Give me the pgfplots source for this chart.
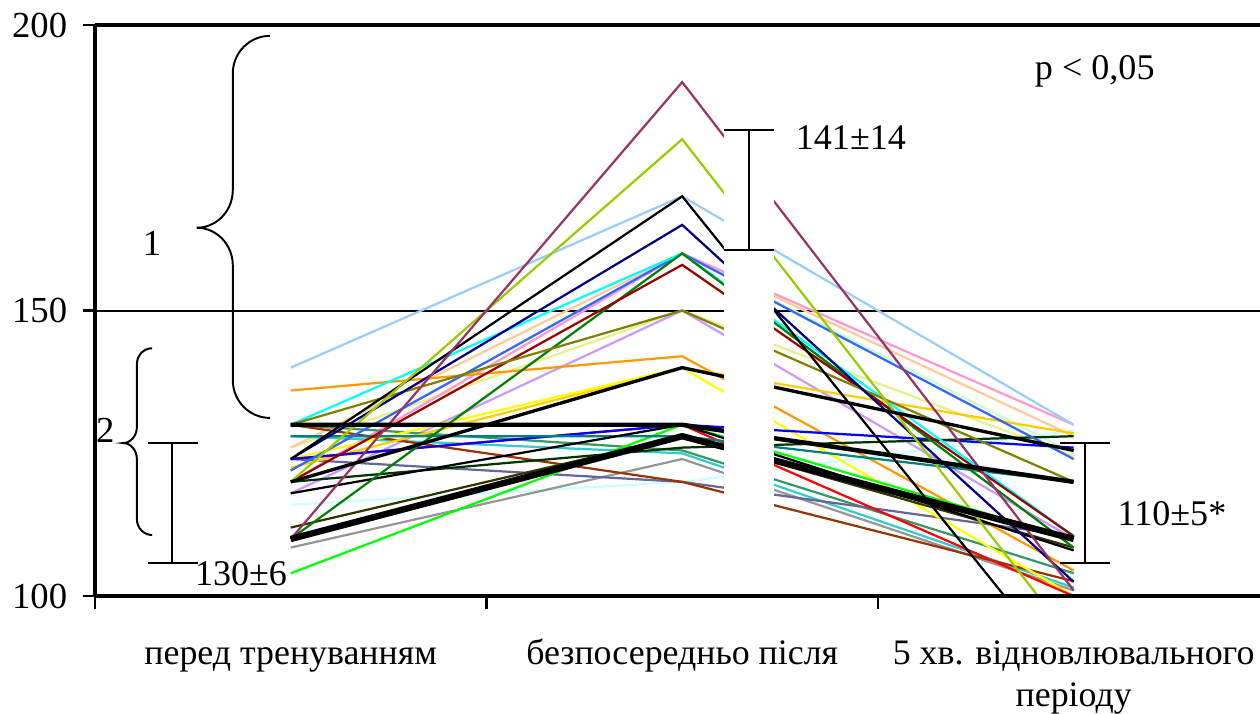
\documentclass[border=0pt]{standalone}
\usepackage{fontspec}
\setmainfont{Liberation Serif}
\usepackage{pgfplots}
\pgfplotsset{compat=1.18}

\definecolor{skyb}{HTML}{99CCFF}
\definecolor{orng}{HTML}{FF9900}
\definecolor{maroon}{HTML}{993366}
\definecolor{ygreen}{HTML}{99CC00}
\definecolor{navy}{HTML}{000080}
\definecolor{aqua}{HTML}{00FFFF}
\definecolor{royal}{HTML}{3366FF}
\definecolor{pinkc}{HTML}{FF99CC}
\definecolor{peach}{HTML}{FFCC99}
\definecolor{grn}{HTML}{008000}
\definecolor{dred}{HTML}{990000}
\definecolor{olivec}{HTML}{808000}
\definecolor{lav}{HTML}{CC99FF}
\definecolor{lyel}{HTML}{E6F08C}
\definecolor{pgreen}{HTML}{CCFFCC}
\definecolor{yel}{HTML}{FFFF00}
\definecolor{gold}{HTML}{FFCC00}
\definecolor{blu}{HTML}{0000FF}
\definecolor{dgreen}{HTML}{003300}
\definecolor{tealc}{HTML}{008080}
\definecolor{seag}{HTML}{339966}
\definecolor{lseag}{HTML}{33CCCC}
\definecolor{gry}{HTML}{969696}
\definecolor{brwn}{HTML}{993300}
\definecolor{slate}{HTML}{666699}
\definecolor{lcyan}{HTML}{CCFFFF}
\definecolor{rd}{HTML}{FF0000}
\definecolor{lime}{HTML}{00FF00}
\definecolor{dolive}{HTML}{333300}

\begin{document}
\begin{tikzpicture}[font=\fontsize{12.5}{15}\selectfont]
\begin{axis}[
  scale only axis,
  width=419.4pt, height=205.6pt,
  xmin=0.5, xmax=3.476, ymin=100, ymax=200,
  axis x line=box, axis y line=left,
  axis line style={-, line width=1.3pt},
  xtick={0.5,1.5,2.5}, xticklabels={},
  ytick={100,150,200},
  tick align=outside, xtick pos=left, ytick pos=left,
  major tick length=4.5pt,
  tick style={black, line width=0.8pt},
  /pgf/number format/assume math mode=true,
  tick label style={font=\fontsize{13.2}{15}\selectfont},
  yticklabel style={xshift=-2pt},
  extra x ticks={1,2,3},
  extra x tick labels={перед тренуванням, безпосередньо після,
    {\begin{tabular}[t]{@{}c@{}}5 хв. відновлювального\\періоду\end{tabular}}},
  extra x tick style={major tick length=0pt, tick style={draw=none},
    xticklabel style={anchor=base, yshift=-24.5pt,
      font=\fontsize{12.9}{15.1}\selectfont}},
  axis on top,
  clip mode=individual,
  subj/.style={line width=0.8pt, mark=none},
  thk/.style={line width=1.6pt, mark=none},
]
% reference level at 150
\draw[black, line width=0.7pt] (axis cs:0.5,150) -- (axis cs:3.476,150);

% individual heart-rate curves: before, right after, 5 min of recovery
\addplot[subj, pgreen]  coordinates {(1,122) (2,160) (3,125)};
\addplot[subj, lcyan]   coordinates {(1,116) (2,120) (3,129)};
\addplot[subj, lyel]    coordinates {(1,126) (2,150) (3,124.5)};
\addplot[subj, peach]   coordinates {(1,126) (2,160) (3,128)};
\addplot[subj, pinkc]   coordinates {(1,120) (2,160) (3,130)};
\addplot[subj, skyb]    coordinates {(1,140) (2,170) (3,130)};
\addplot[subj, lav]     coordinates {(1,118) (2,150) (3,110)};
\addplot[subj, gry]     coordinates {(1,108.5) (2,124) (3,101)};
\addplot[subj, lseag]   coordinates {(1,128) (2,125) (3,101.5)};
\addplot[subj, seag]    coordinates {(1,130) (2,125.5) (3,104)};
\addplot[subj, slate]   coordinates {(1,124) (2,120) (3,110.5)};
\addplot[subj, brwn]    coordinates {(1,130) (2,120) (3,102.6)};
\addplot[subj, orng]    coordinates {(1,136) (2,142) (3,104.5)};
\addplot[subj, gold]    coordinates {(1,122.5) (2,140) (3,128.5)};
\addplot[subj, yel]     coordinates {(1,124) (2,140) (3,100)};
\addplot[subj, rd]      coordinates {(1,124) (2,130) (3,100)};
\addplot[subj, lime]    coordinates {(1,104) (2,130) (3,110)};
\addplot[subj, blu]     coordinates {(1,124) (2,130) (3,126)};
\addplot[subj, dgreen]  coordinates {(1,120) (2,126) (3,128)};
\addplot[subj, tealc]   coordinates {(1,128) (2,128) (3,120)};
\addplot[subj, dolive]  coordinates {(1,112) (2,128) (3,108.5)};
\addplot[subj, black]   coordinates {(1,118) (2,130) (3,108)};
\addplot[subj, royal]   coordinates {(1,122) (2,160) (3,124)};
\addplot[subj, aqua]    coordinates {(1,130) (2,160) (3,110.5)};
\addplot[subj, grn]     coordinates {(1,110) (2,160) (3,108.5)};
\addplot[subj, dred]    coordinates {(1,120) (2,158) (3,110.5)};
\addplot[subj, olivec]  coordinates {(1,130) (2,150) (3,120)};
\addplot[subj, navy]    coordinates {(1,124) (2,165) (3,102.5)};
\addplot[subj, black]   coordinates {(1,124) (2,170) (3,85)};
\addplot[subj, ygreen]  coordinates {(1,120) (2,180) (3,92)};
\addplot[subj, maroon]  coordinates {(1,110) (2,190) (3,101)};
\addplot[thk, black]    coordinates {(1,130) (2,130) (3,120)};
\addplot[line width=1.2pt, black] coordinates {(1,120) (2,140) (3,125.5)};
\addplot[line width=2.3pt, black] coordinates {(1,110) (2,128) (3,110)};

% label strip behind the middle error bar
\fill[white] (axis cs:2.107,100.4) rectangle (axis cs:2.234,185);

% error bars
\begin{scope}[line width=0.9pt]
\draw (axis cs:0.697,105.8) -- (axis cs:0.697,126.8);
\draw (axis cs:0.635,105.8) -- (axis cs:0.763,105.8);
\draw (axis cs:0.635,126.8) -- (axis cs:0.763,126.8);
\draw (axis cs:2.170,160.6) -- (axis cs:2.170,181.6);
\draw (axis cs:2.107,160.6) -- (axis cs:2.234,160.6);
\draw (axis cs:2.107,181.6) -- (axis cs:2.234,181.6);
\draw (axis cs:3.029,105.8) -- (axis cs:3.029,126.8);
\draw (axis cs:2.965,105.8) -- (axis cs:3.093,105.8);
\draw (axis cs:2.965,126.8) -- (axis cs:3.093,126.8);
\end{scope}

% braces
\draw[line width=0.7pt]
  (axis cs:0.947,198.1) .. controls (axis cs:0.895,198.1) and (axis cs:0.852,195.2) .. (axis cs:0.852,191.5)
  -- (axis cs:0.852,171.1) .. controls (axis cs:0.852,167.4) and (axis cs:0.810,164.5) .. (axis cs:0.760,164.5)
  .. controls (axis cs:0.810,164.5) and (axis cs:0.852,161.6) .. (axis cs:0.852,157.9)
  -- (axis cs:0.852,137.8) .. controls (axis cs:0.852,134.1) and (axis cs:0.895,131.2) .. (axis cs:0.947,131.2);
\draw[line width=0.7pt]
  (axis cs:0.646,143.4) .. controls (axis cs:0.625,143.4) and (axis cs:0.607,142.2) .. (axis cs:0.607,140.6)
  -- (axis cs:0.607,129.6) .. controls (axis cs:0.607,128.0) and (axis cs:0.590,126.8) .. (axis cs:0.572,126.8)
  .. controls (axis cs:0.590,126.8) and (axis cs:0.607,125.6) .. (axis cs:0.607,124.0)
  -- (axis cs:0.607,113.5) .. controls (axis cs:0.607,111.9) and (axis cs:0.625,110.7) .. (axis cs:0.646,110.7);

% annotations
\node[font=\fontsize{13.2}{15}\selectfont] at (axis cs:0.646,161.8) {1};
\node[font=\fontsize{13.2}{15}\selectfont] at (axis cs:0.526,129.1) {2};
\node[font=\fontsize{13}{15}\selectfont] at (axis cs:0.873,104.0) {130±6};
\node[font=\fontsize{13}{15}\selectfont] at (axis cs:2.431,180.2) {141±14};
\node[font=\fontsize{13}{15}\selectfont] at (axis cs:3.251,114.5) {110±5*};
\node[font=\fontsize{13}{15}\selectfont] at (axis cs:3.054,191.8) {p < 0,05};

\coordinate (BL) at (axis cs:0.2573,79.5);
\coordinate (TR) at (axis cs:3.476,204.38);
\end{axis}
\pgfresetboundingbox
\useasboundingbox (BL) rectangle (TR);
\end{tikzpicture}
\end{document}
